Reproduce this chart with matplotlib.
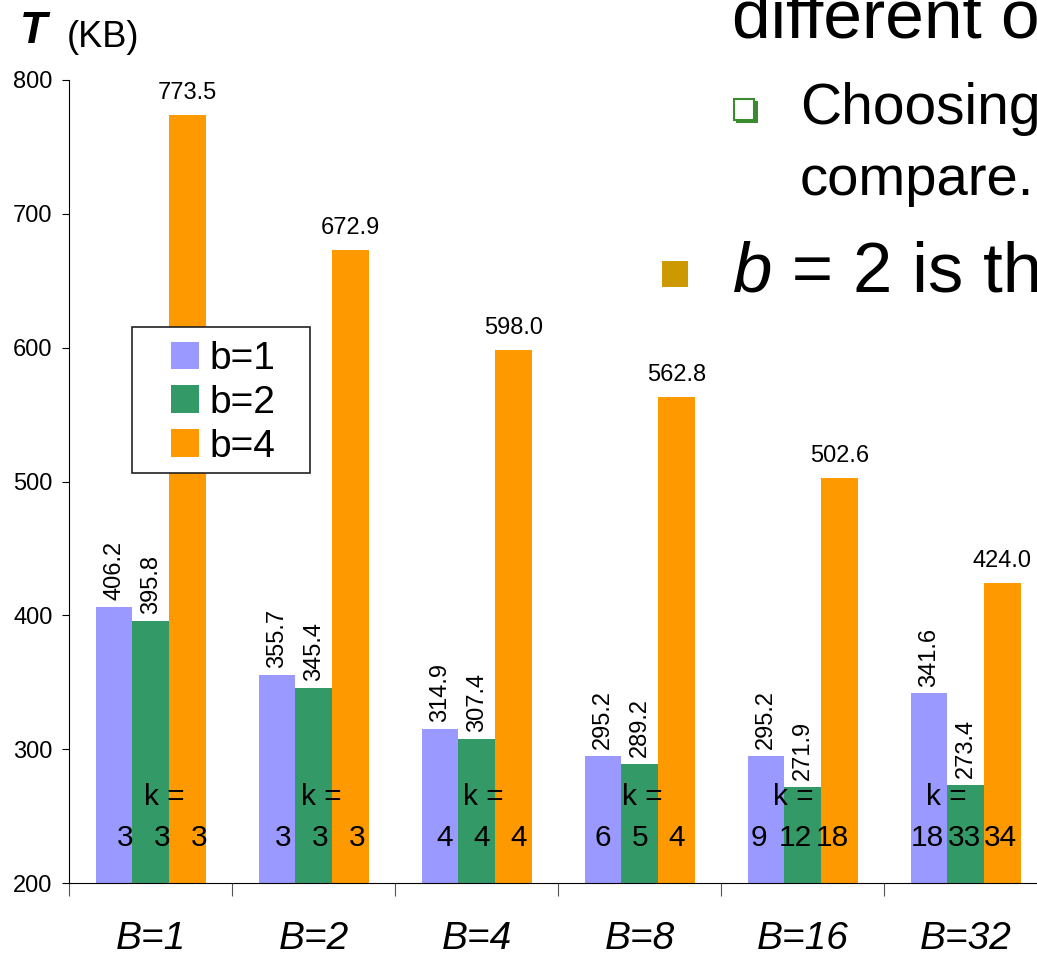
import matplotlib.pyplot as plt
from matplotlib.patches import Rectangle
import numpy as np

plt.rcParams['font.family'] = ['Liberation Sans', 'DejaVu Sans']

# data
groups = ['B=1', 'B=2', 'B=4', 'B=8', 'B=16', 'B=32']
series = ['b=1', 'b=2', 'b=4']
t_b1 = [406.2, 355.7, 314.9, 295.2, 295.2, 341.6]
t_b2 = [395.8, 345.4, 307.4, 289.2, 271.9, 273.4]
t_b4 = [773.5, 672.9, 598.0, 562.8, 502.6, 424.0]
k_b1 = [3, 3, 4, 6, 9, 18]
k_b2 = [3, 3, 4, 5, 12, 33]
k_b4 = [3, 3, 4, 4, 18, 34]

colors = ['#9999FF', '#339966', '#FF9900']
W, H = 1037, 955

# small hand placement of the "k =" boxes, in category units
k_shift = [0.07, 0.04, 0.03, 0.0, -0.045, -0.01]
keq_shift = [0.08, 0.045, 0.037, 0.018, -0.06, -0.118]

def fx(px):
    return px / W

def fy(py):
    return 1 - py / H

fig = plt.figure(figsize=(W / 100, H / 100), dpi=100)
ax = fig.add_axes([fx(69.3), fy(883), 978 / W, 803 / H])

x = np.arange(len(groups))
bw = 0.225
offs = [-bw, 0, bw]
vals = [t_b1, t_b2, t_b4]
ks = [k_b1, k_b2, k_b4]

for j in range(3):
    ax.bar(x + offs[j], vals[j], bw, bottom=0, color=colors[j], label=series[j], zorder=2)
    for i in range(len(groups)):
        v = vals[j][i]
        if j == 2:
            ax.annotate(f'{v:.1f}', (x[i] + offs[j], v), xytext=(0, 8), textcoords='offset points',
                        ha='center', va='bottom', fontsize=17)
        else:
            ax.annotate(f'{v:.1f}', (x[i] + offs[j], v), xytext=(0, 5), textcoords='offset points',
                        ha='center', va='bottom', rotation=90, fontsize=17)
        ax.text(x[i] + offs[j] + k_shift[i], 233.4, str(ks[j][i]), ha='center', va='center',
                fontsize=21.5, zorder=3)

for i in range(len(groups)):
    ax.text(x[i] + keq_shift[i], 264.5, 'k =', ha='center', va='center', fontsize=21.5, zorder=3)

ax.set_xlim(-0.5, 5.5)
ax.set_ylim(200, 800)
ax.set_yticks([200, 300, 400, 500, 600, 700, 800])
ax.tick_params(axis='y', labelsize=17, length=5, pad=7)
ax.set_xticks(np.arange(-0.5, 6.0, 1.0))
ax.set_xticklabels([])
ax.tick_params(axis='x', which='major', length=9, color='#555555')
ax.set_xticks(x, minor=True)
ax.set_xticklabels(groups, minor=True, fontsize=28, style='italic')
ax.tick_params(axis='x', which='minor', length=0, pad=27)
for s in ['top', 'right']:
    ax.spines[s].set_visible(False)

# legend with its own box
fig.patches.append(Rectangle((fx(131.7), fy(473)), (310 - 131.7) / W, (473 - 327) / H,
                             transform=fig.transFigure, facecolor='white', edgecolor='#222222',
                             lw=1.2, zorder=4))
leg = fig.legend(loc='upper left', bbox_to_anchor=(fx(171), fy(341)), frameon=False,
                 fontsize=28, borderpad=0, borderaxespad=0, handlelength=0.72, handleheight=0.72,
                 handletextpad=0.28, labelspacing=0.2)
leg.set_zorder(5)

# axis title
fig.text(fx(20), fy(43), 'T', fontsize=32, fontweight='bold', style='italic', va='baseline')
fig.text(fx(67), fy(47), '(KB)', fontsize=26, va='baseline')

# slide text around the chart
fig.text(fx(732), fy(37), 'different o', fontsize=50, va='baseline')
fig.patches.append(Rectangle((fx(736), fy(123)), 22 / W, 22 / H, transform=fig.transFigure,
                             facecolor='#3A8A2E', edgecolor='none'))
fig.patches.append(Rectangle((fx(734), fy(120)), 20 / W, 21 / H, transform=fig.transFigure,
                             facecolor='white', edgecolor='#3A8A2E', lw=1.5))
fig.text(fx(800), fy(124), 'Choosing', fontsize=41, va='baseline')
fig.text(fx(800), fy(195), 'compare.', fontsize=40.5, va='baseline')
fig.patches.append(Rectangle((fx(662), fy(287)), 26 / W, 26 / H, transform=fig.transFigure,
                             facecolor='#CC9900', edgecolor='none'))
bt = fig.text(fx(733), fy(292), 'b', fontsize=51, style='italic', va='baseline')
ax.annotate(' = 2 is the', xy=(1, 0), xycoords=bt, ha='left', va='bottom', fontsize=51,
            annotation_clip=False)

fig.savefig('out.png', dpi=100)
